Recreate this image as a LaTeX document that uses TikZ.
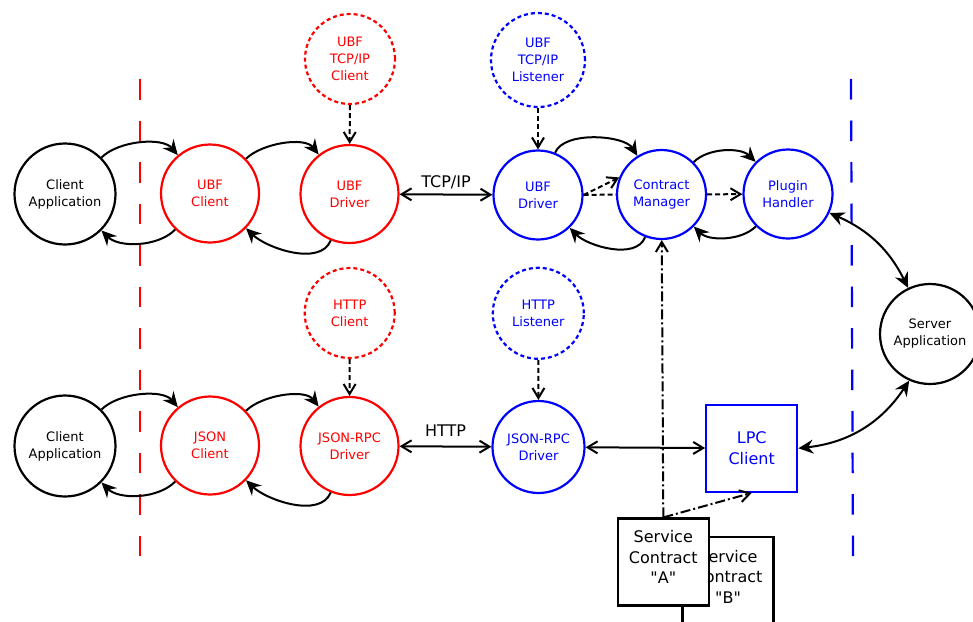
\documentclass[tikz,border=0pt]{standalone}
\usepackage{fontspec}
\setmainfont{DejaVu Sans}[Ligatures=TeXOff]
\usetikzlibrary{arrows.meta}
\definecolor{myred}{RGB}{255,0,0}
\definecolor{myblue}{RGB}{0,0,255}
\begin{document}
\begin{tikzpicture}[x=1pt,y=1pt,
  circ/.style={circle,draw,line width=2.2pt,inner sep=0pt,align=center,font=\fontsize{13}{17}\selectfont},
  redc/.style={circ,draw=myred,text=myred,minimum size=98pt},
  bluec/.style={circ,draw=myblue,text=myblue,minimum size=89pt},
  blackc/.style={circ,draw=black,minimum size=101pt},
  dashcirc/.style={dash pattern=on 4pt off 3pt},
  boxn/.style={rectangle,draw,line width=2.2pt,inner sep=0pt,align=center,font=\fontsize{16}{20.5}\selectfont,minimum width=91pt,minimum height=87pt},
  lbl/.style={font=\fontsize{16}{20}\selectfont,inner sep=0pt},
  stl/.tip={Stealth[length=15pt,width=14pt,inset=5pt]},
  carr/.style={-stl,line width=2pt},
  cdarr/.style={stl-stl,line width=2pt},
  barb/.tip={Straight Barb[length=10pt,width=12pt]},
  darr/.style={barb-barb,line width=2pt},
  dasharr/.style={-barb,line width=2pt,dash pattern=on 5pt off 3pt},
  dashl/.style={line width=2pt,dash pattern=on 5pt off 3pt},
  ddarr/.style={-barb,line width=2pt,dash pattern=on 10pt off 3pt on 2pt off 3pt}
]
\useasboundingbox (0,0) rectangle (973,-621);

% separators
\draw[myred,line width=2.2pt,dash pattern=on 20.5pt off 21pt] (140,-79) -- (140,-558);
\draw[myblue,line width=2.2pt,dash pattern=on 20.5pt off 21pt] (851,-79) -- (853,-558);

% top row
\node[blackc] (ca1) at (65,-194) {Client\\Application};
\node[redc] (uc1) at (210,-193.5) {UBF\\Client};
\node[redc] (ud1) at (349.5,-194) {UBF\\Driver};
\node[redc,dashcirc,minimum size=90pt] (tcpc) at (350,-59) {UBF\\TCP/IP\\Client};
\node[bluec] (bd1) at (538,-195) {UBF\\Driver};
\node[bluec] (cm) at (661.5,-194.5) {Contract\\Manager};
\node[bluec] (ph) at (788,-194) {Plugin\\Handler};
\node[bluec,dashcirc,minimum size=94pt] (tcpl) at (538,-60) {UBF\\TCP/IP\\Listener};
\node[blackc,minimum size=100pt] (sa) at (930,-334) {Server\\Application};

% bottom row
\node[blackc] (ca2) at (65,-446) {Client\\Application};
\node[redc] (uc2) at (210,-445.5) {JSON\\Client};
\node[redc] (ud2) at (349.5,-446) {JSON-RPC\\Driver};
\node[redc,dashcirc,minimum size=90pt] (httpc) at (349.7,-313) {HTTP\\Client};
\node[bluec,minimum size=92pt] (bd2) at (538.5,-447) {JSON-RPC\\Driver};
\node[bluec,dashcirc,minimum size=91pt] (httpl) at (538.3,-313.3) {HTTP\\Listener};
\node[boxn,draw=myblue,text=myblue] (lpc) at (751.7,-448.3) {LPC\\Client};

% service contracts
\node[boxn,fill=white,minimum height=104pt] (scb) at (728,-589) {\raisebox{6pt}[0pt][0pt]{\begin{tabular}{@{}c@{}}Service\\Contract\\"B"\end{tabular}}};
\node[boxn,fill=white] (sca) at (663.3,-562) {\raisebox{-1.5pt}[0pt][0pt]{\begin{tabular}{@{}c@{}}Service\\Contract\\"A"\end{tabular}}};

% top row connectors
\draw[carr] (ca1) to[out=45,in=130,looseness=0.8] (uc1);
\draw[carr] (uc1) to[out=226,in=-45,looseness=0.85] (ca1);
\draw[carr] (uc1) to[out=44,in=128,looseness=0.8] (ud1);
\draw[carr] (ud1) to[out=248,in=-44,looseness=0.85] (uc1);
\draw[dasharr] (tcpc) -- (ud1);
\draw[darr] (ud1) -- node[lbl,yshift=12pt] {TCP/IP} (bd1);
\draw[dasharr] (tcpl) -- (bd1);
\draw[carr] (bd1) to[out=68,in=122,looseness=0.75] (cm);
\draw[carr] (cm) to[out=249,in=-46,looseness=0.85] (bd1);
\draw[dashl] (bd1.east) -- (cm.west);
\draw[dasharr] (bd1.east) -- (cm.158);
\draw[dasharr] (cm) -- (ph);
\draw[carr] (cm) to[bend left=45,looseness=0.85] (ph);
\draw[carr] (ph) to[bend left=45,looseness=0.85] (cm);
\draw[cdarr] (ph) to[bend left=20] (sa);

% bottom row connectors
\draw[carr] (ca2) to[out=45,in=130,looseness=0.8] (uc2);
\draw[carr] (uc2) to[out=226,in=-45,looseness=0.85] (ca2);
\draw[carr] (uc2) to[out=44,in=128,looseness=0.8] (ud2);
\draw[carr] (ud2) to[out=248,in=-44,looseness=0.85] (uc2);
\draw[dasharr] (httpc) -- (ud2);
\draw[darr] (ud2) -- node[lbl,yshift=16pt] {HTTP} (bd2);
\draw[dasharr] (httpl) -- (bd2);
\draw[darr] (bd2) -- (lpc);
\draw[cdarr] (lpc.east) to[bend right=25] (sa);

% contract links
\draw[ddarr] (sca.north) -- (cm);
\draw[ddarr] (sca.north) -- (lpc.south);
\end{tikzpicture}
\end{document}
